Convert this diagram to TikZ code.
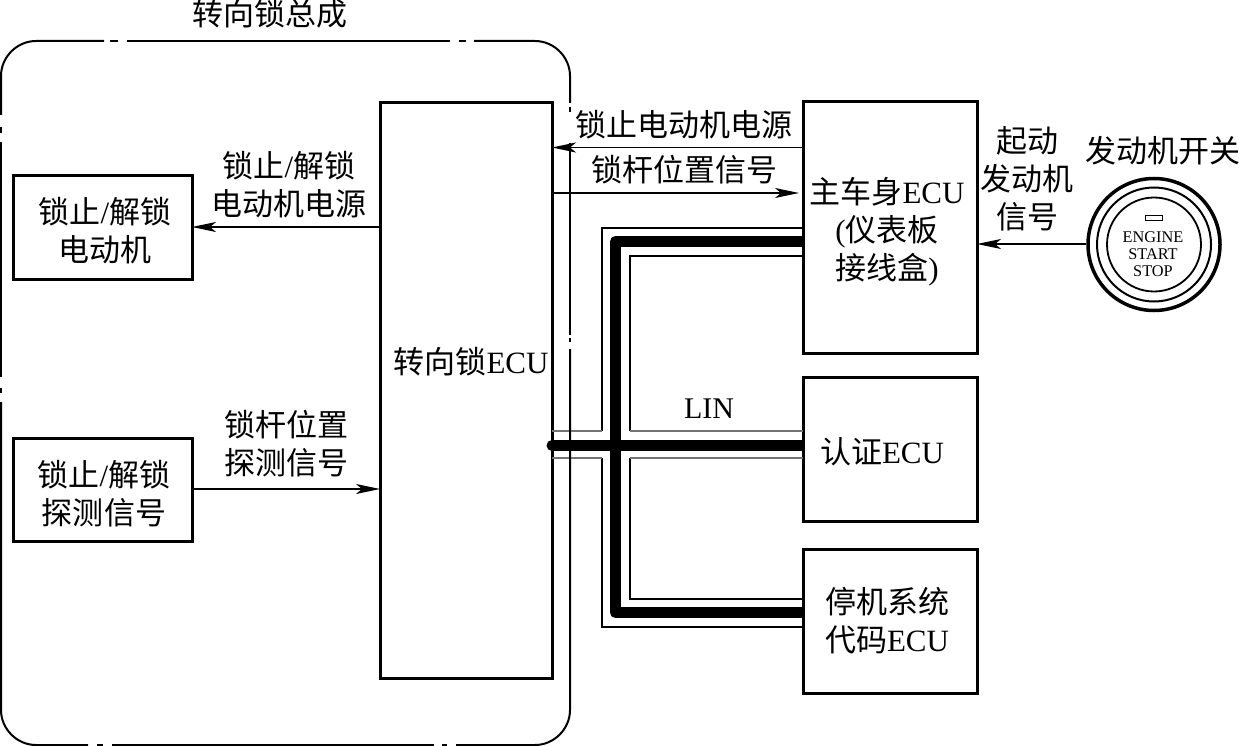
\documentclass[tikz,border=0pt]{standalone}
\usepackage{fontspec}
\setmainfont{Liberation Serif}
\newfontfamily\cjk{Noto Sans CJK SC}
\usetikzlibrary{arrows.meta}
\tikzset{
 x=1pt,y=-1pt,
 blockbox/.style={draw,line width=3pt,fill=white,inner sep=0pt,outer sep=0pt},
 lbl/.style={font=\fontsize{31}{38}\selectfont,align=center,inner sep=0pt},
 arrowline/.style={line width=1.5pt,-{Stealth[length=24pt,width=10pt,inset=6pt]}},
 outline/.style={line width=2pt},
 bus/.style={line width=11pt,line join=round},
 busblack/.style={line width=1.5pt,black},
 busgray/.style={line width=1.5pt,black!55},
}
\newcommand{\rectnode}[5]{\node[blockbox,minimum width=#3-#1,minimum height=#4-#2,anchor=north west] (#5) at (#1,#2) {};}
\begin{document}
\begin{tikzpicture}
\useasboundingbox (0,0) rectangle (1239,746);
% outer enclosure, long lines with small breaks
\draw[outline] (104,41) -- (36,41) .. controls (17,41) and (1,57) .. (1,76) -- (1,115);
\draw[outline] (1,127) -- (1,133);
\draw[outline] (1,142) -- (1,377);
\draw[outline] (1,388) -- (1,393);
\draw[outline] (1,402) -- (1,710) .. controls (1,729) and (17,745) .. (36,745) -- (88,745);
\draw[outline] (97,745) -- (103,745);
\draw[outline] (112,745) -- (434,745);
\draw[outline] (442,745) -- (447,745);
\draw[outline] (456,745) -- (535,745) .. controls (554,745) and (570,729) .. (570,710) -- (570,349);
\draw[outline] (570,342) -- (570,338);
\draw[outline] (570,335) -- (570,143);
\draw[outline] (570,112) -- (570,107);
\draw[outline] (570,103) -- (570,76) .. controls (570,57) and (554,41) .. (535,41) -- (474,41);
\draw[outline] (466,41) -- (459,41);
\draw[outline] (450,41) -- (127,41);
\draw[outline] (118,41) -- (110,41);
% boxes
\rectnode{380}{103}{552}{678}{ecu}
\rectnode{803}{102}{977}{353}{body}
\rectnode{803}{377}{977}{521}{auth}
\rectnode{803}{549}{977}{693}{immo}
\rectnode{13}{176}{192}{279}{motor}
\rectnode{13}{438}{192}{541}{detect}
\node[lbl] (ecut) at (471,362) {{\cjk 转向锁}ECU};
\node[lbl] (bodyt) at (887,232) {{\cjk 主车身}ECU\\({\cjk 仪表板}\\{\cjk 接线盒})};
\node[lbl] (autht) at (882,452) {{\cjk 认证}ECU};
\node[lbl] (immot) at (887,621) {{\cjk 停机系统}\\{\cjk 代码}ECU};
\node[lbl] (motort) at (105,231) {{\cjk 锁止}/{\cjk 解锁}\\{\cjk 电动机}};
\node[lbl] (detectt) at (104,494) {{\cjk 锁止}/{\cjk 解锁}\\{\cjk 探测信号}};
\node[lbl] (title) at (270,14) {\cjk 转向锁总成};
\node[lbl] (l1) at (289,185) {{\cjk 锁止}/{\cjk 解锁}\\{\cjk 电动机电源}};
\node[lbl] (l2) at (286,444) {{\cjk 锁杆位置}\\{\cjk 探测信号}};
\node[lbl] (l3) at (683.5,125) {\cjk 锁止电动机电源};
\node[lbl] (l4) at (684,170) {\cjk 锁杆位置信号};
\node[lbl] (l5) at (1027,179) {{\cjk 起动}\\{\cjk 发动机}\\{\cjk 信号}};
\node[lbl] (l6) at (1163,151) {\cjk 发动机开关};
\node[font=\fontsize{30}{32}\selectfont,inner sep=0pt] (lin) at (709,409) {LIN};
% start switch
\coordinate (sw) at (1154,244.5);
\foreach \r/\w/\n in {66/3.5/swa,57/2/swb,47/1.8/swc}
  \node[circle,draw,line width=\w pt,minimum size=2*\r pt,inner sep=0pt] (\n) at (sw) {};
\node[draw,line width=1.3pt,minimum width=17pt,minimum height=5pt,inner sep=0pt] (lamp) at (1154,218) {};
\node[font=\fontsize{16.3}{17}\selectfont,align=center,inner sep=0pt] (swt) at (1153,254) {ENGINE\\START\\STOP};
% arrows
\draw[arrowline] (body.west |- 0,147.5) -- (ecu.east |- 0,147.5);
\draw[arrowline] (ecu.east |- 0,193) -- (799,193);
\draw[arrowline] (ecu.west |- 0,227) -- (motor.east |- 0,227);
\draw[arrowline] (detect.east |- 0,489) -- (ecu.west |- 0,489);
\draw[arrowline] (swa.west |- 0,244) -- (body.east |- 0,244);
% LIN bus
\draw[busblack] (602,431) -- (602,228) -- (body.west |- 0,228);
\draw[busblack] (630,431) -- (630,256) -- (body.west |- 0,256);
\draw[busblack] (602,458) -- (602,627) -- (immo.west |- 0,627);
\draw[busblack] (630,458) -- (630,599) -- (immo.west |- 0,599);
\draw[busgray] (ecu.east |- 0,431) -- (602,431);
\draw[busgray] (ecu.east |- 0,458) -- (602,458);
\draw[busgray] (630,431) -- (auth.west |- 0,431);
\draw[busgray] (630,458) -- (auth.west |- 0,458);
\draw[bus] (body.west |- 0,241.5) -- (615.5,241.5) -- (615.5,612.5) -- (immo.west |- 0,612.5);
\draw[bus] (ecu.east |- 0,445.5) -- (auth.west |- 0,445.5);
\fill (ecu.east |- 0,445.5) circle[radius=5.5];
\draw[line width=1.5pt] (570,425) -- (570,465);
\end{tikzpicture}
\end{document}
